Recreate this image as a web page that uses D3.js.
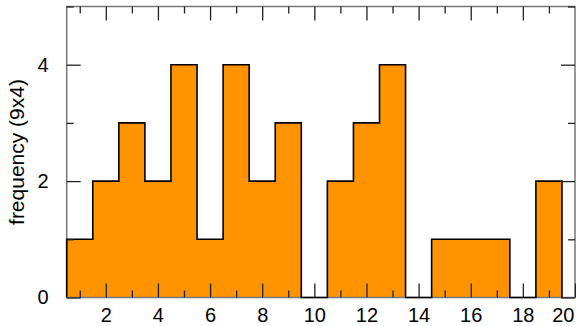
<!DOCTYPE html>
<html>
<head>
<meta charset="utf-8">
<script src="https://cdn.jsdelivr.net/npm/d3@7"></script>
<style>
  body { margin: 0; background: #fff; }
  svg { display: block; font-family: "Liberation Sans", Arial, sans-serif; }
</style>
</head>
<body>
<svg id="chart" width="576" height="326"></svg>
<script>
// bin centres and counts (9x4 = 36 values)
const binCenters = [1, 2, 3, 4, 5, 6, 7, 8, 9, 10, 11, 12, 13, 14, 15, 16, 17, 18, 19];
const counts     = [1, 2, 3, 2, 4, 1, 4, 2, 3, 0, 2, 3, 4, 0, 1, 1, 1, 0, 2];
const binWidth = 1;

const xMajor = [2, 4, 6, 8, 10, 12, 14, 16, 18, 20];
const xMinor = [1, 3, 5, 7, 9, 11, 13, 15, 17, 19];
const yMajor = [0, 2, 4];
const yMinor = [1, 3, 5];
const yTitle = "frequency (9x4)";

const plotLeft = 66.7, plotRight = 575, plotTop = 6.5, plotBottom = 297.5;

const svg = d3.select("#chart");

const x = d3.scaleLinear().domain([0.5, 20]).range([plotLeft, plotRight]);
const y = d3.scaleLinear().domain([0, 5]).range([plotBottom, plotTop]);

// step outline points built from the bins
let pts = [[binCenters[0] - binWidth / 2, 0]];
binCenters.forEach((c, i) => {
  pts.push([c - binWidth / 2, counts[i]]);
  pts.push([c + binWidth / 2, counts[i]]);
});
pts.push([binCenters[binCenters.length - 1] + binWidth / 2, 0]);

svg.append("path")
  .datum(pts)
  .attr("fill", "#ff9400")
  .attr("d", d3.area().x(d => x(d[0])).y0(y(0)).y1(d => y(d[1])));

// frame
svg.append("rect")
  .attr("x", plotLeft).attr("y", plotTop)
  .attr("width", plotRight - plotLeft).attr("height", plotBottom - plotTop)
  .attr("fill", "none")
  .attr("stroke", "#777")
  .attr("stroke-width", 1.5);

svg.append("path")
  .datum(pts)
  .attr("fill", "none")
  .attr("stroke", "#000")
  .attr("stroke-width", 1.6)
  .attr("d", d3.line().x(d => x(d[0])).y(d => y(d[1])));

function styleAxis(g) {
  g.select(".domain").remove();
  g.selectAll(".tick line").attr("stroke", "#222").attr("stroke-width", 1.3);
  g.selectAll("text").attr("fill", "#000").style("font-size", "20px")
    .style("font-family", "'Liberation Sans', Arial, sans-serif");
}

// bottom axis
const gx = svg.append("g").attr("transform", `translate(0,${plotBottom})`)
  .call(d3.axisBottom(x).tickValues(xMajor).tickSize(-14).tickPadding(10).tickFormat(d3.format("d")))
  .call(styleAxis);
// keep the last label inside the window
gx.selectAll(".tick text").filter(d => d === 20)
  .attr("text-anchor", "end").attr("x", plotRight - x(20) - 1);

svg.append("g").attr("transform", `translate(0,${plotBottom})`)
  .call(d3.axisBottom(x).tickValues(xMinor).tickSize(-7).tickFormat(""))
  .call(styleAxis);

// top axis
svg.append("g").attr("transform", `translate(0,${plotTop})`)
  .call(d3.axisTop(x).tickValues(xMajor.filter(d => d < 20)).tickSize(-14).tickFormat(""))
  .call(styleAxis);
svg.append("g").attr("transform", `translate(0,${plotTop})`)
  .call(d3.axisTop(x).tickValues(xMinor).tickSize(-7).tickFormat(""))
  .call(styleAxis);

// left axis
svg.append("g").attr("transform", `translate(${plotLeft},0)`)
  .call(d3.axisLeft(y).tickValues(yMajor).tickSize(-14).tickPadding(18).tickFormat(d3.format("d")))
  .call(styleAxis);
svg.append("g").attr("transform", `translate(${plotLeft},0)`)
  .call(d3.axisLeft(y).tickValues(yMinor).tickSize(-7).tickFormat(""))
  .call(styleAxis);

// right axis
svg.append("g").attr("transform", `translate(${plotRight},0)`)
  .call(d3.axisRight(y).tickValues(yMajor).tickSize(-14).tickFormat(""))
  .call(styleAxis);
svg.append("g").attr("transform", `translate(${plotRight},0)`)
  .call(d3.axisRight(y).tickValues(yMinor).tickSize(-7).tickFormat(""))
  .call(styleAxis);

// y title
svg.append("text")
  .attr("transform", `translate(24,${(plotTop + plotBottom) / 2}) rotate(-90)`)
  .attr("text-anchor", "middle")
  .style("font-size", "21px")
  .attr("fill", "#000")
  .text(yTitle);
</script>
</body>
</html>
